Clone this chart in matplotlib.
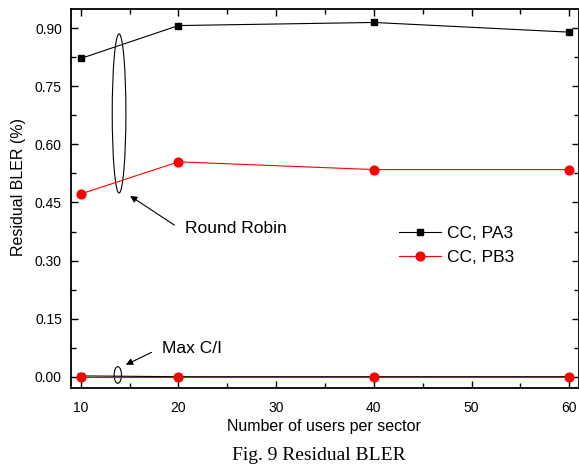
import matplotlib
matplotlib.use("Agg")
import matplotlib.pyplot as plt
from matplotlib.patches import Ellipse
from matplotlib.ticker import MultipleLocator

plt.rcParams['font.family'] = ['Liberation Sans', 'DejaVu Sans']

# data
users = [10, 20, 40, 60]
pa3_rr = [0.822, 0.907, 0.915, 0.890]
pb3_rr = [0.472, 0.555, 0.535, 0.535]
pa3_maxci = [0.002, 0.0, 0.0, 0.0]
pb3_maxci = [0.0, 0.0, 0.0, 0.0]

yticks = [0.00, 0.15, 0.30, 0.45, 0.60, 0.75, 0.90]
xticks = [10, 20, 30, 40, 50, 60]

fig = plt.figure(figsize=(5.79, 4.65), dpi=100)
ax = fig.add_axes([71 / 579, 1 - 388.3 / 465, 508 / 579, 379 / 465])

ax.plot(users, pa3_rr, color='black', marker='s', markersize=5, linewidth=0.8, label='CC, PA3')
ax.plot(users, pb3_rr, color='red', marker='o', markersize=6.3, linewidth=0.8, label='CC, PB3')
ax.plot(users, pa3_maxci, color='black', marker='s', markersize=5, linewidth=0.8)
ax.plot(users, pb3_maxci, color='red', marker='o', markersize=6.3, linewidth=0.8)

ax.set_xlim(9, 61)
ax.set_ylim(-0.03, 0.949)
ax.set_xticks(xticks)
ax.set_yticks(yticks)
ax.set_yticklabels([f"{v:.2f}" for v in yticks])
ax.xaxis.set_minor_locator(MultipleLocator(5))
ax.yaxis.set_minor_locator(MultipleLocator(0.075))
ax.tick_params(which='both', direction='in', top=True, right=True, labelsize=10, width=1)
ax.tick_params(which='major', length=5)
ax.tick_params(which='minor', length=3.5)
ax.tick_params(axis='x', pad=9)
ax.tick_params(axis='y', pad=6.5)
for sp in ax.spines.values():
    sp.set_linewidth(1.3)

# ellipses and arrows marking the scheduler groups
ax.add_patch(Ellipse((13.92, 0.680), 1.40, 0.411, fill=False, edgecolor='black', linewidth=0.8))
ax.annotate('', xy=(14.81, 0.471), xytext=(19.83, 0.3875),
            arrowprops=dict(arrowstyle='-|>', color='black', lw=0.8, mutation_scale=10))
ax.text(20.68, 0.384, 'Round Robin', fontsize=12.5, va='center', ha='left')

ax.add_patch(Ellipse((13.79, 0.0044), 0.75, 0.043, fill=False, edgecolor='black', linewidth=0.8))
ax.annotate('', xy=(14.36, 0.0277), xytext=(17.5, 0.066),
            arrowprops=dict(arrowstyle='-|>', color='black', lw=0.8, mutation_scale=10))
ax.text(18.29, 0.073, 'Max C/I', fontsize=12.5, va='center', ha='left')

ax.legend(loc='upper left', bbox_to_anchor=(399 / 579, 1 - 226 / 465),
          bbox_transform=fig.transFigure, frameon=False, fontsize=12.5,
          handlelength=2.4, handletextpad=0.35, borderpad=0, borderaxespad=0,
          labelspacing=0.5)

fig.text(324 / 579, 1 - 431 / 465, 'Number of users per sector', fontsize=11.5,
         ha='center', va='baseline')
fig.text(19 / 579, 1 - 187 / 465, 'Residual BLER (%)', fontsize=11.5,
         ha='center', va='center', rotation=90)
fig.text(319 / 579, 1 - 460 / 465, 'Fig. 9 Residual BLER', fontsize=14,
         ha='center', va='baseline', family=['Liberation Serif', 'DejaVu Serif'])

fig.savefig('out.png', dpi=100)
